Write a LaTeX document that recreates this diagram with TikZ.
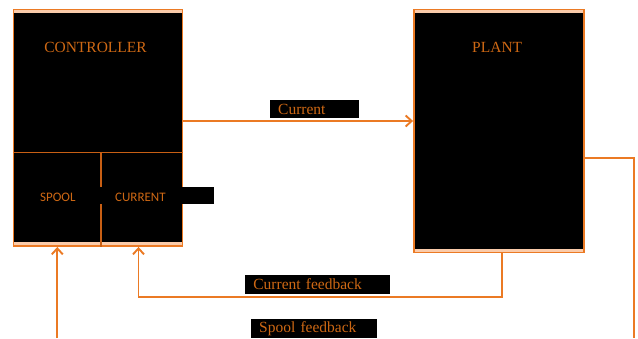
\documentclass[tikz,border=0pt]{standalone}
\usepackage{fontspec}
\setmainfont{Liberation Serif}
\newfontfamily\calib{Carlito}
\usetikzlibrary{arrows.meta}
\definecolor{lineor}{RGB}{235,122,36}
\definecolor{textor}{RGB}{206,104,20}
\definecolor{divor}{RGB}{200,95,20}
\definecolor{peach}{RGB}{250,203,170}
\tikzset{
  block/.style={draw=lineor, line width=1.9pt, fill=peach, inner sep=0pt,
    path picture={\fill[black] ([yshift=-3.4pt]path picture bounding box.north west) rectangle ([yshift=3.6pt]path picture bounding box.south east);}},
  title/.style={text=textor, font=\fontsize{15.5}{17}\selectfont, anchor=base, inner sep=0pt},
  sub/.style={text=textor, font=\calib\fontsize{13}{15}\selectfont, inner sep=0pt},
  lab/.style={fill=black, text=textor, font=\fontsize{15.5}{17}\selectfont, anchor=north west, inner ysep=0pt, align=left},
  conn/.style={draw=lineor, line width=1.9pt},
  arr/.style={conn, -{Straight Barb[length=6pt,width=11pt,line width=1.9pt]}},
  divl/.style={draw=divor, line width=1.3pt}
}
\begin{document}
\begin{tikzpicture}[x=1pt,y=-1pt]
\useasboundingbox (0,0) rectangle (638,338);
% blocks
\node[block, minimum width=169pt, minimum height=236.5pt] (ctrl) at (98,127.75) {};
\node[block, minimum width=170.3pt, minimum height=243pt] (plant) at (499.15,131) {};
% controller dividers
\coordinate (dl) at (13.5,152.3);
\coordinate (dm) at (101,152.3);
\draw[divl] (dl) -- (dl -| ctrl.east);
\draw[divl] (dm) -- (dm |- ctrl.south);
% titles
\node[title] (ctrltitle) at (95.5,52.3) {CONTROLLER};
\node[title] (planttitle) at (497.2,52.3) {PLANT};
\node[sub] (spool) at (57.8,197) {SPOOL};
% connectors
\draw[arr] ([yshift=6.75pt]ctrl.east) -- ([yshift=6.75pt]ctrl.east -| plant.west);
\coordinate (out) at (634,338);
\draw[conn] ([yshift=-27pt]plant.east) -| (out);
\draw[arr] ([xshift=3.2pt]plant.south) -- ++(0,43.5) -| ([xshift=40.5pt]ctrl.south);
\coordinate (spin) at (57.3,338);
\draw[arr] (spin) -- (spin |- ctrl.south);
% labels
\node[lab, text width=83pt, inner xsep=16pt, minimum height=17.7pt, text height=12pt, text depth=0.3pt] (curin) at (99,186.3) {\calib\fontsize{13}{15}\selectfont CURRENT};
\node[lab, text width=73pt, inner xsep=8pt, minimum height=17.7pt] (curlab) at (270,100) {Current};
\node[lab, text width=128.4pt, inner xsep=8.2pt, minimum height=18.7pt] (fblab) at (245,275) {Current feedback};
\node[lab, text width=109.4pt, inner xsep=8.3pt, minimum height=19pt] (splab) at (250.7,319) {Spool feedback};
\end{tikzpicture}
\end{document}
